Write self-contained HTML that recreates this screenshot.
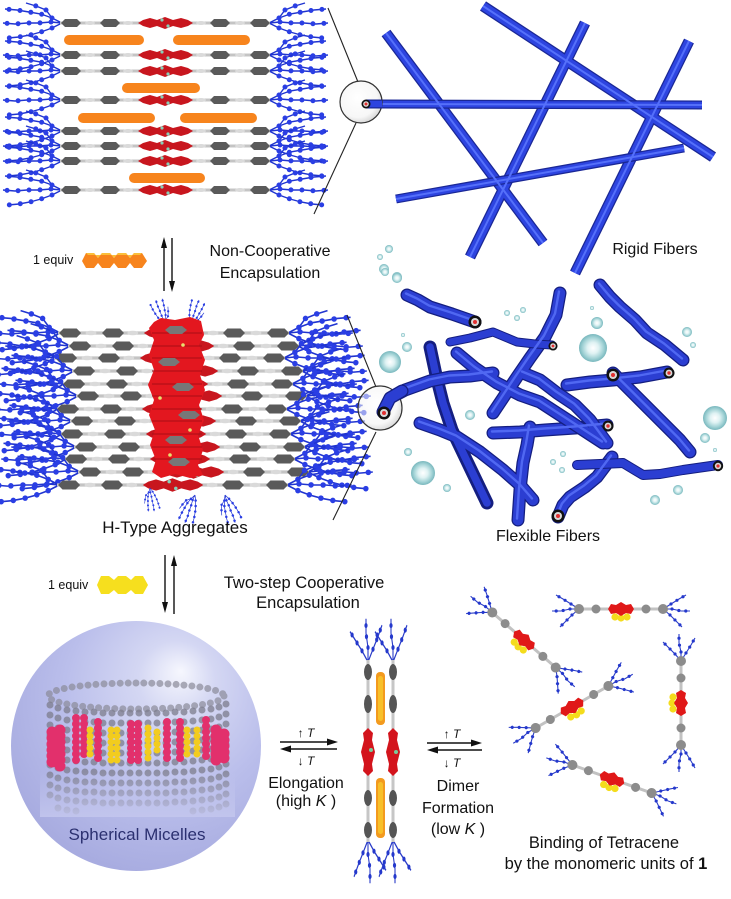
<!DOCTYPE html>
<html><head><meta charset="utf-8"><style>
html,body{margin:0;padding:0;background:#fff;}
svg{display:block;font-family:"Liberation Sans",Arial,sans-serif;}
</style></head><body>
<svg width="731" height="899" viewBox="0 0 731 899" xmlns="http://www.w3.org/2000/svg">
<defs>
<radialGradient id="sph" cx="0.6" cy="0.35" r="0.7" fx="0.68" fy="0.2">
 <stop offset="0" stop-color="#f6f7fe"/>
 <stop offset="0.22" stop-color="#d4d7f3"/>
 <stop offset="0.6" stop-color="#babeeb"/>
 <stop offset="1" stop-color="#a6aadf"/>
</radialGradient>
<radialGradient id="lens" cx="0.42" cy="0.4" r="0.62">
 <stop offset="0" stop-color="#ffffff"/>
 <stop offset="0.75" stop-color="#f1f1f1"/>
 <stop offset="1" stop-color="#bdbdbd"/>
</radialGradient>
<radialGradient id="bub" cx="0.5" cy="0.5" r="0.5">
 <stop offset="0" stop-color="#ffffff"/>
 <stop offset="0.4" stop-color="#dff2f3"/>
 <stop offset="0.75" stop-color="#a3d3d6"/>
 <stop offset="1" stop-color="#78b7bd"/>
</radialGradient>
<linearGradient id="fade" x1="0" y1="0" x2="0" y2="1">
 <stop offset="0" stop-color="#c4c7ee" stop-opacity="0"/>
 <stop offset="1" stop-color="#c4c7ee" stop-opacity="0.85"/>
</linearGradient>

<g id="chL">
 <path d="M0,0 L-10,-5 L-21,-9 L-33,-11 L-45,-13 L-57,-14 M0,0 L-11,-1 L-23,0 L-35,0 L-47,1 L-59,0 M0,0 L-10,5 L-21,9 L-32,12 L-43,14 L-54,15 M-10,-5 L-16,-13 L-26,-17 L-36,-20" fill="none" stroke="#2034d0" stroke-width="1.4"/>
 <path d="M-10,-5 L-21,-9 L-33,-11 L-45,-13 L-57,-14 M-11,-1 L-23,0 L-35,0 L-47,1 L-59,0 M-10,5 L-21,9 L-32,12 L-43,14 L-54,15 M-16,-13 L-26,-17 L-36,-20" fill="none" stroke="#2a3ee4" stroke-width="5" stroke-linecap="round" stroke-dasharray="0 11"/>
</g>

<g id="row">
 <use href="#chL" x="62"/>
 <use href="#chL" transform="translate(269,0) scale(-1,1)"/>
 <line x1="60" y1="0" x2="270" y2="0" stroke="#c4c4c4" stroke-width="3"/>
 <polygon points="61,0 65,-4 77,-4 81,0 77,4 65,4" fill="#5a5a5a"/>
 <polygon points="100,0 104,-4 116,-4 120,0 116,4 104,4" fill="#5a5a5a"/>
 <polygon points="210,0 214,-4 226,-4 230,0 226,4 214,4" fill="#5a5a5a"/>
 <polygon points="250,0 254,-4 266,-4 270,0 266,4 254,4" fill="#5a5a5a"/>
 <ellipse cx="90" cy="0" rx="5" ry="2" fill="#dadada"/>
 <ellipse cx="128" cy="0" rx="5" ry="2" fill="#dadada"/>
 <ellipse cx="201" cy="0" rx="5" ry="2" fill="#dadada"/>
 <ellipse cx="240" cy="0" rx="5" ry="2" fill="#dadada"/>
 <path d="M138,0 L143,-3 L150,-5 L157,-3 L165,-6 L173,-3 L181,-5 L188,-3 L193,0 L188,3 L181,5 L173,3 L165,6 L157,3 L150,5 L143,3 Z" fill="#c8161e"/>
 <circle cx="162" cy="-3" r="1.6" fill="#86d0b8"/>
 <circle cx="168" cy="3" r="1.6" fill="#86d0b8"/>
</g>

<g id="tend">
 <path d="M0,0 L-8,-5 L-16,-10 L-23,-14 M0,0 L-9,0 L-18,2 L-27,2 M0,0 L-7,6 L-13,12 L-19,18" fill="none" stroke="#2a3cc8" stroke-width="1.1"/>
 <path d="M-8,-5 L-16,-10 L-23,-14 M-9,0 L-18,2 L-27,2 M-7,6 L-13,12 L-19,18" fill="none" stroke="#2438cc" stroke-width="3.2" stroke-linecap="round" stroke-dasharray="0 7"/>
</g>
<g id="mono">
 <use href="#tend" x="-42"/>
 <use href="#tend" transform="translate(42,0) scale(-1,1)"/>
 <line x1="-42" y1="0" x2="42" y2="0" stroke="#c2c2c2" stroke-width="3"/>
 <circle cx="-42" cy="0" r="5" fill="#8c8c8c"/>
 <circle cx="-25" cy="0" r="4.5" fill="#8c8c8c"/>
 <circle cx="25" cy="0" r="4.5" fill="#8c8c8c"/>
 <circle cx="42" cy="0" r="5" fill="#8c8c8c"/>
 <circle cx="-6" cy="8" r="3.6" fill="#f4dc1c"/>
 <circle cx="0" cy="9" r="3.6" fill="#f4dc1c"/>
 <circle cx="6" cy="8" r="3.6" fill="#f4dc1c"/>
 <path d="M-13,0 L-10,-5 L-5,-4 L0,-7 L5,-4 L10,-5 L13,0 L10,5 L5,4 L0,7 L-5,4 L-10,5 Z" fill="#e01818"/>
</g>

<g id="vcol">
 <g transform="translate(0,662) rotate(90)"><use href="#tend" transform="scale(1.6,1)"/></g>
 <g transform="translate(0,840) rotate(-90)"><use href="#tend" transform="scale(1.6,1)"/></g>
 <line x1="0" y1="660" x2="0" y2="842" stroke="#c6c6c6" stroke-width="3"/>
 <ellipse cx="0" cy="672" rx="4" ry="8" fill="#555"/>
 <ellipse cx="0" cy="704" rx="4" ry="9" fill="#555"/>
 <ellipse cx="0" cy="798" rx="4" ry="8" fill="#555"/>
 <ellipse cx="0" cy="830" rx="4" ry="8" fill="#555"/>
 <path d="M0,728 L-5,733 L-4,740 L-7,752 L-4,764 L-5,771 L0,776 L5,771 L4,764 L7,752 L4,740 L5,733 Z" fill="#d3141c"/>
</g>

<path id="fa" d="M407,295 L418,300 L430,307 L452,314 L475,322"/>
<path id="fc" d="M383,412 L390,398 L405,390 L430,381 L450,377 L470,376 L493,373"/>
<path id="fd" d="M560,293 L556,315 L545,337 L530,358 L517,377 L505,395 L493,413"/>
<path id="ff" d="M457,353 L475,368 L497,383 L520,395 L540,402 L560,415 L580,428 L603,443"/>
<path id="fg" d="M523,373 L540,380 L557,393 L575,405 L590,420 L607,443"/>
<path id="fh" d="M493,433 L520,432 L545,430 L575,428 L607,425"/>
<path id="fi" d="M420,423 L440,430 L457,437 L480,452 L503,470 L520,485 L533,500"/>
<path id="fj" d="M530,427 L527,445 L523,463 L520,490 L518,520"/>
<path id="fk" d="M600,285 L610,297 L620,307 L635,320 L647,333 L665,345 L683,360"/>
<path id="fl" d="M567,385 L590,382 L613,380 L640,377 L667,372"/>
<path id="fm" d="M613,373 L625,385 L637,397 L652,412 L667,427 L680,440 L690,452"/>
<path id="fn" d="M577,465 L600,464 L623,463 L643,475 L660,474 L683,470 L718,465"/>
<path id="fo" d="M558,517 L563,505 L570,497 L585,487 L597,477 L612,457"/>
<path id="fb" d="M450,342 L470,338 L493,332 L505,337 L517,342 L535,344 L552,345"/>
<path id="fe" d="M430,347 L436,375 L443,403 L452,430 L463,453 L475,478 L487,503"/>

<path id="r1" d="M366,104 L702,105"/>
<path id="r2" d="M386,33 L543,243"/>
<path id="r3" d="M483,6 L713,157"/>
<path id="r4" d="M585,23 L470,257"/>
<path id="r5" d="M689,41 L575,273"/>
<path id="r6" d="M396,199 L684,148"/>

<g id="cap">
 <circle r="6.5" fill="#111"/>
 <circle r="4" fill="#d8d8d8"/>
 <circle r="2" fill="#e23030"/>
</g>
</defs>

<!-- TOP STACK -->
<g>
 <use href="#row" y="23"/>
 <use href="#row" y="55"/>
 <use href="#row" y="71"/>
 <use href="#row" y="100"/>
 <use href="#row" y="131"/>
 <use href="#row" y="146"/>
 <use href="#row" y="161"/>
 <use href="#row" y="190"/>
 <g fill="#f7841d">
  <rect x="64" y="35" width="80" height="10" rx="5"/>
  <rect x="173" y="35" width="77" height="10" rx="5"/>
  <rect x="122" y="83" width="78" height="10" rx="5"/>
  <rect x="78" y="113" width="77" height="10" rx="5"/>
  <rect x="180" y="113" width="77" height="10" rx="5"/>
  <rect x="129" y="173" width="76" height="10" rx="5"/>
 </g>
</g>

<line x1="328" y1="8" x2="358" y2="82" stroke="#222" stroke-width="1.1"/>
<line x1="356" y1="123" x2="314" y2="214" stroke="#222" stroke-width="1.1"/>

<!-- RIGID FIBERS -->
<g fill="none" stroke-linecap="butt">
 <g stroke="#1a2795" stroke-width="11">
  <use href="#r2"/><use href="#r3"/><use href="#r4"/><use href="#r5"/>
 </g>
 <g stroke="#2d44e0" stroke-width="8.5">
  <use href="#r2"/><use href="#r3"/><use href="#r4"/><use href="#r5"/>
 </g>
 <g stroke="#1a2795" stroke-width="9"><use href="#r1"/><use href="#r6"/></g>
 <g stroke="#2d44e0" stroke-width="6.5"><use href="#r1"/><use href="#r6"/></g>
 <g stroke="#5570fa" stroke-width="2">
  <use href="#r1"/><use href="#r2"/><use href="#r3"/><use href="#r4"/><use href="#r5"/><use href="#r6"/>
 </g>
</g>
<circle cx="361" cy="102" r="21" fill="url(#lens)" stroke="#333" stroke-width="1.2" fill-opacity="0.6"/>
<line x1="366" y1="104" x2="382" y2="104" stroke="#1a2795" stroke-width="9"/>
<line x1="366" y1="104" x2="382" y2="104" stroke="#2d44e0" stroke-width="6.5"/>
<circle cx="366" cy="104" r="4.5" fill="#111"/>
<circle cx="366" cy="104" r="2.8" fill="#ddd"/>
<circle cx="366" cy="104" r="1.5" fill="#e23030"/>
<text x="655" y="254" font-size="16" text-anchor="middle" fill="#111">Rigid Fibers</text>

<!-- labels row 1 -->
<text x="33" y="264" font-size="12.5" fill="#111">1 equiv</text>
<polygon points="82,261 86,253 94,253 98,258 102,253 110,253 114,258 118,253 126,253 130,258 134,253 142,253 147,261 142,268 134,268 130,263 126,268 118,268 114,263 110,268 102,268 98,263 94,268 86,268" fill="#f7841d"/>
<polygon points="86,253 94,253 98,258 102,253 110,253 114,258 118,253 126,253 130,258 134,253 142,253 140,255 88,255" fill="#fbbf3a"/>
<line x1="164" y1="291" x2="164" y2="245" stroke="#111" stroke-width="1.4"/>
<polygon points="164,237 161,248 167,248" fill="#111"/>
<line x1="172" y1="238" x2="172" y2="284" stroke="#111" stroke-width="1.4"/>
<polygon points="172,292 169,281 175,281" fill="#111"/>
<text x="270" y="256" font-size="16" text-anchor="middle" fill="#111">Non-Cooperative</text>
<text x="270" y="278" font-size="16" text-anchor="middle" fill="#111">Encapsulation</text>

<g fill="url(#bub)">
 <circle cx="389" cy="249" r="4"/><circle cx="380" cy="257" r="3"/>
 <circle cx="384" cy="269" r="5"/><circle cx="397" cy="277" r="5"/>
</g>

<!-- H-TYPE STACK -->
<g>
 <use href="#row" transform="translate(-8,333) scale(1.1,1.12)"/>
 <use href="#row" transform="translate(2,346) scale(1.1,1.12)"/>
 <use href="#row" transform="translate(-12,358) scale(1.1,1.12)"/>
 <use href="#row" transform="translate(6,371) scale(1.1,1.12)"/>
 <use href="#row" transform="translate(-4,384) scale(1.1,1.12)"/>
 <use href="#row" transform="translate(10,396) scale(1.1,1.12)"/>
 <use href="#row" transform="translate(-10,409) scale(1.1,1.12)"/>
 <use href="#row" transform="translate(4,421) scale(1.1,1.12)"/>
 <use href="#row" transform="translate(-6,434) scale(1.1,1.12)"/>
 <use href="#row" transform="translate(8,447) scale(1.1,1.12)"/>
 <use href="#row" transform="translate(-2,459) scale(1.1,1.12)"/>
 <use href="#row" transform="translate(12,472) scale(1.1,1.12)"/>
 <use href="#row" transform="translate(-9,485) scale(1.1,1.12)"/>
 <use href="#chL" transform="translate(165,325) rotate(70) scale(0.45)"/>
 <use href="#chL" transform="translate(190,325) rotate(110) scale(0.45)"/>
 <use href="#chL" transform="translate(195,495) rotate(-70) scale(0.5)"/>
 <use href="#chL" transform="translate(225,495) rotate(-110) scale(0.5)"/>
 <use href="#chL" transform="translate(150,488) rotate(-100) scale(0.4)"/>
 <path d="M154,322 L161,318 L175,320 L190,317 L201,321 L204,335 L199,345 L205,360 L200,375 L205,390 L199,405 L204,420 L198,435 L203,450 L198,465 L203,475 L190,478 L175,474 L161,478 L152,472 L156,460 L150,445 L155,430 L149,415 L154,400 L148,385 L154,370 L149,355 L154,340 L149,328 Z" fill="#e3171f"/>
 <g stroke="#a80e16" stroke-width="1">
  <line x1="152" y1="333" x2="202" y2="333"/><line x1="152" y1="346" x2="202" y2="346"/>
  <line x1="152" y1="358" x2="202" y2="358"/><line x1="152" y1="371" x2="202" y2="371"/>
  <line x1="152" y1="384" x2="202" y2="384"/><line x1="152" y1="396" x2="202" y2="396"/>
  <line x1="152" y1="409" x2="202" y2="409"/><line x1="152" y1="421" x2="202" y2="421"/>
  <line x1="152" y1="434" x2="202" y2="434"/><line x1="152" y1="447" x2="202" y2="447"/>
  <line x1="152" y1="459" x2="202" y2="459"/>
 </g>
 <g fill="#777">
  <polygon points="165,330 170,326 182,326 187,330 182,334 170,334"/>
  <polygon points="172,387 177,383 189,383 194,387 189,391 177,391"/>
  <polygon points="165,440 170,436 182,436 187,440 182,444 170,444"/>
  <polygon points="168,462 173,458 185,458 190,462 185,466 173,466"/>
  <polygon points="158,362 163,358 175,358 180,362 175,366 163,366"/>
  <polygon points="178,415 183,411 195,411 200,415 195,419 183,419"/>
 </g>
 <g fill="#e8e070">
  <circle cx="183" cy="345" r="1.8"/><circle cx="160" cy="398" r="1.8"/><circle cx="190" cy="430" r="1.8"/><circle cx="170" cy="455" r="1.8"/>
 </g>
</g>
<text x="175" y="533" font-size="17" text-anchor="middle" fill="#111">H-Type Aggregates</text>

<line x1="347" y1="315" x2="376" y2="387" stroke="#222" stroke-width="1.1"/>
<line x1="376" y1="432" x2="333" y2="520" stroke="#222" stroke-width="1.1"/>

<!-- FLEXIBLE FIBERS -->
<g fill="none" stroke-linecap="round" stroke-linejoin="round">
 <g stroke="#141e80" stroke-width="13">
  <use href="#fe"/><use href="#fi"/><use href="#fj"/><use href="#fh"/>
 </g>
 <g stroke="#2b3ed2" stroke-width="10.5">
  <use href="#fi"/><use href="#fj"/><use href="#fh"/>
 </g>
 <use href="#fe" stroke="#2b3ed2" stroke-width="7.5"/>
 <g stroke="#141e80" stroke-width="13">
  <use href="#fc"/><use href="#ff"/><use href="#fg"/><use href="#fd"/>
 </g>
 <g stroke="#2b3ed2" stroke-width="10.5">
  <use href="#fc"/><use href="#ff"/><use href="#fg"/><use href="#fd"/>
 </g>
 <use href="#fb" stroke="#141e80" stroke-width="9"/>
 <use href="#fb" stroke="#2b3ed2" stroke-width="7"/>
 <g stroke="#141e80" stroke-width="13">
  <use href="#fa"/><use href="#fk"/><use href="#fl"/><use href="#fm"/><use href="#fo"/>
 </g>
 <g stroke="#2b3ed2" stroke-width="10.5">
  <use href="#fa"/><use href="#fk"/><use href="#fl"/><use href="#fm"/><use href="#fo"/>
 </g>
 <use href="#fn" stroke="#141e80" stroke-width="10"/>
 <use href="#fn" stroke="#2b3ed2" stroke-width="8"/>
 <g stroke="#5068f2" stroke-width="2.4" transform="translate(-1,-1.5)">
  <use href="#fa"/><use href="#fc"/><use href="#fd"/><use href="#ff"/><use href="#fg"/><use href="#fh"/>
  <use href="#fi"/><use href="#fj"/><use href="#fk"/><use href="#fl"/><use href="#fm"/><use href="#fo"/>
 </g>
</g>
<circle cx="380" cy="408" r="22" fill="url(#lens)" stroke="#333" stroke-width="1.2" fill-opacity="0.55"/>
<g fill="none" stroke-linecap="round" stroke-linejoin="round">
 <path d="M383,412 L390,398 L402,391" stroke="#141e80" stroke-width="13"/>
 <path d="M383,412 L390,398 L402,391" stroke="#2b3ed2" stroke-width="10.5"/>
</g>
<use href="#cap" x="384" y="413"/>
<use href="#cap" x="475" y="322"/>
<use href="#cap" transform="translate(553,346) scale(0.7)"/>
<use href="#cap" x="613" y="375"/>
<use href="#cap" transform="translate(669,373) scale(0.85)"/>
<use href="#cap" transform="translate(608,426) scale(0.85)"/>
<use href="#cap" transform="translate(718,466) scale(0.8)"/>
<use href="#cap" x="558" y="516"/>

<g fill="url(#bub)">
 <circle cx="385" cy="272" r="4"/><circle cx="397" cy="278" r="5"/>
 <circle cx="403" cy="335" r="2"/><circle cx="407" cy="347" r="5"/>
 <circle cx="390" cy="362" r="11"/>
 <circle cx="507" cy="313" r="3"/><circle cx="517" cy="318" r="3"/><circle cx="523" cy="310" r="3"/>
 <circle cx="592" cy="308" r="2"/><circle cx="597" cy="323" r="6"/>
 <circle cx="593" cy="348" r="14"/>
 <circle cx="687" cy="332" r="5"/><circle cx="693" cy="345" r="3"/>
 <circle cx="470" cy="415" r="5"/>
 <circle cx="715" cy="418" r="12"/><circle cx="705" cy="438" r="5"/><circle cx="715" cy="450" r="2"/>
 <circle cx="408" cy="452" r="4"/><circle cx="423" cy="473" r="12"/><circle cx="447" cy="488" r="4"/>
 <circle cx="563" cy="454" r="3"/><circle cx="553" cy="462" r="3"/><circle cx="562" cy="470" r="3"/>
 <circle cx="678" cy="490" r="5"/><circle cx="655" cy="500" r="5"/>
</g>
<text x="548" y="541" font-size="16" text-anchor="middle" fill="#111">Flexible Fibers</text>

<!-- labels row 2 -->
<text x="48" y="589" font-size="12.5" fill="#111">1 equiv</text>
<polygon points="97,585 101,576 109,576 114,580 118,576 126,576 131,580 135,576 143,576 148,585 143,594 135,594 131,590 126,594 118,594 114,590 109,594 101,594" fill="#f6df1e"/>
<line x1="165" y1="555" x2="165" y2="604" stroke="#111" stroke-width="1.4"/>
<polygon points="165,613 162,602 168,602" fill="#111"/>
<line x1="174" y1="614" x2="174" y2="564" stroke="#111" stroke-width="1.4"/>
<polygon points="174,555 171,566 177,566" fill="#111"/>
<text x="304" y="588" font-size="16.5" text-anchor="middle" fill="#111">Two-step Cooperative</text>
<text x="308" y="608" font-size="16.5" text-anchor="middle" fill="#111">Encapsulation</text>

<!-- MICELLE -->
<circle cx="136" cy="746" r="125" fill="url(#sph)"/>
<g stroke-linecap="round" fill="none">
 <ellipse cx="136" cy="696" rx="88" ry="13" stroke="#8a8a98" stroke-width="7" stroke-dasharray="0 8" opacity="0.7"/>
 <g stroke="#7c7c8c" stroke-width="7" stroke-dasharray="0 10" opacity="0.75">
  <path d="M50,705 V805 M58,708 V810 M67,710 V812 M76,711 V812 M85,712 V812 M94,712 V812 M103,713 V812 M112,713 V812 M121,713 V812 M130,713 V812 M139,713 V812 M148,713 V812 M157,713 V812 M166,713 V812 M175,712 V812 M184,712 V812 M193,711 V812 M202,710 V812 M211,709 V810 M219,707 V808 M226,704 V805"/>
 </g>
 <g stroke="#e2306c" stroke-width="8" stroke-dasharray="0 6">
  <path d="M76,718 V762 M84,718 V760 M98,722 V760 M131,724 V762 M138,724 V762 M167,722 V762 M180,722 V762 M206,720 V762"/>
 </g>
 <g stroke="#e2306c" stroke-width="11" stroke-dasharray="0 6">
  <path d="M52,732 V765 M60,730 V768 M216,730 V766 M224,734 V764"/>
 </g>
 <g stroke="#f2cc1e" stroke-width="7" stroke-dasharray="0 6">
  <path d="M90,730 V756 M111,730 V762 M117,730 V762 M148,728 V762 M157,732 V756 M187,730 V760 M197,730 V758"/>
 </g>
</g>
<rect x="40" y="772" width="195" height="45" fill="url(#fade)"/>
<text x="137" y="840" font-size="17" text-anchor="middle" fill="#2b3070">Spherical Micelles</text>

<!-- equilibrium 1 -->
<line x1="280" y1="742" x2="330" y2="742" stroke="#111" stroke-width="1.5"/>
<polygon points="338,742 327,738.5 327,745.5" fill="#111"/>
<line x1="288" y1="749" x2="337" y2="749" stroke="#111" stroke-width="1.5"/>
<polygon points="280,749 291,745.5 291,752.5" fill="#111"/>
<text x="306" y="737" font-size="12" text-anchor="middle" fill="#111">↑ <tspan font-style="italic">T</tspan></text>
<text x="306" y="765" font-size="12" text-anchor="middle" fill="#111">↓ <tspan font-style="italic">T</tspan></text>
<text x="306" y="788" font-size="16" text-anchor="middle" fill="#111">Elongation</text>
<text x="306" y="806" font-size="16" text-anchor="middle" fill="#111">(high<tspan font-style="italic"> K</tspan> )</text>

<!-- DIMER -->
<use href="#vcol" x="368"/>
<use href="#vcol" x="393"/>
<rect x="376" y="672" width="9" height="53" rx="4" fill="#f39a1e"/>
<rect x="378" y="676" width="5" height="45" rx="2.5" fill="#f7c02a"/>
<rect x="376" y="778" width="9" height="60" rx="4" fill="#f39a1e"/>
<rect x="378" y="782" width="5" height="52" rx="2.5" fill="#f7c02a"/>
<circle cx="371" cy="750" r="2" fill="#7acb9a"/><circle cx="396" cy="752" r="2" fill="#7acb9a"/>

<!-- equilibrium 2 -->
<line x1="427" y1="743" x2="474" y2="743" stroke="#111" stroke-width="1.5"/>
<polygon points="482,743 471,739.5 471,746.5" fill="#111"/>
<line x1="435" y1="750" x2="482" y2="750" stroke="#111" stroke-width="1.5"/>
<polygon points="427,750 438,746.5 438,753.5" fill="#111"/>
<text x="452" y="738" font-size="12" text-anchor="middle" fill="#111">↑ <tspan font-style="italic">T</tspan></text>
<text x="452" y="767" font-size="12" text-anchor="middle" fill="#111">↓ <tspan font-style="italic">T</tspan></text>
<text x="458" y="791" font-size="16" text-anchor="middle" fill="#111">Dimer</text>
<text x="458" y="813" font-size="16" text-anchor="middle" fill="#111">Formation</text>
<text x="458" y="834" font-size="16" text-anchor="middle" fill="#111">(low<tspan font-style="italic"> K</tspan> )</text>

<!-- MONOMERS -->
<use href="#mono" transform="translate(524,640) rotate(41)"/>
<use href="#mono" transform="translate(621,609)"/>
<use href="#mono" transform="translate(572,707) rotate(-30)"/>
<use href="#mono" transform="translate(681,703) rotate(90)"/>
<use href="#mono" transform="translate(612,779) rotate(19.5)"/>

<text x="604" y="848" font-size="16.5" text-anchor="middle" fill="#111">Binding of Tetracene</text>
<text x="606" y="869" font-size="16.5" text-anchor="middle" fill="#111">by the monomeric units of <tspan font-weight="bold">1</tspan></text>
</svg>
</body></html>
